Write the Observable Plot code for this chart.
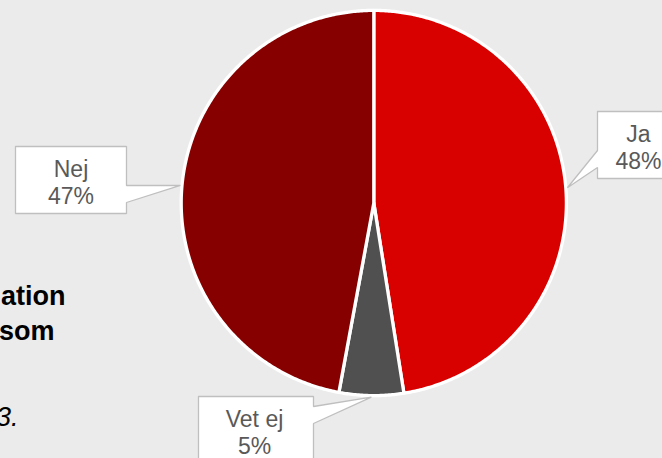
<!DOCTYPE html>
<html><head><meta charset="utf-8">
<script src="https://cdn.jsdelivr.net/npm/d3@7"></script>
<script src="https://cdn.jsdelivr.net/npm/@observablehq/plot@0.6"></script>
<style>html,body{margin:0;padding:0;background:#ebebeb;overflow:hidden}</style>
</head><body><div id="chart"></div>
<script>
// ---- data ----
const categories = ["Ja", "Vet ej", "Nej"];
const values = [47.5, 5.4, 47.1];
const percentLabels = ["48%", "5%", "47%"];
const colors = ["#d90000", "#505050", "#860000"];
const sideFragments = ["ation", "som"];
const noteFragments = ["3."];

// ---- layout ----
const W = 662, H = 458;
const cx = 373.3, cy = 202.5, R = 192.6;
const callouts = {
  "Ja":     {x0: 597, y0: 111, x1: 680, y1: 178, side: "left",  p0: 150, p1: 167, tx: 638},
  "Vet ej": {x0: 198, y0: 396, x1: 313, y1: 480, side: "right", p0: 406, p1: 423, tx: 254},
  "Nej":    {x0: 15,  y0: 146, x1: 126, y1: 213, side: "right", p0: 185, p1: 202, tx: 70.5}
};

const arcs = d3.pie().sort(null).value(d => d)(values);
const pt = (a, r) => ({x: cx + r * Math.sin(a), y: cy - r * Math.cos(a)});

const slicePts = [];
arcs.forEach((a, i) => {
  const cat = categories[i];
  slicePts.push({...pt(0, 0), cat});
  const n = Math.max(2, Math.ceil((a.endAngle - a.startAngle) / (Math.PI / 360)));
  for (let k = 0; k <= n; k++) {
    const ang = a.startAngle + (a.endAngle - a.startAngle) * k / n;
    slicePts.push({...pt(ang, R), cat});
  }
  slicePts.push({...pt(0, 0), cat});
});

const boxPts = [];
const textLines = [];
arcs.forEach((a, i) => {
  const cat = categories[i];
  const c = callouts[cat];
  const tip = pt((a.startAngle + a.endAngle) / 2, R + 1.6);
  let poly;
  if (c.side === "right") {
    poly = [[c.x0, c.y0], [c.x1, c.y0], [c.x1, c.p0], [tip.x, tip.y], [c.x1, c.p1], [c.x1, c.y1], [c.x0, c.y1], [c.x0, c.y0]];
  } else {
    poly = [[c.x0, c.y0], [c.x1, c.y0], [c.x1, c.y1], [c.x0, c.y1], [c.x0, c.p1], [tip.x, tip.y], [c.x0, c.p0], [c.x0, c.y0]];
  }
  poly.forEach(([x, y]) => boxPts.push({x, y, cat}));
  textLines.push({x: c.tx, y: c.y0 + 30, t: cat});
  textLines.push({x: c.tx, y: c.y0 + 57, t: percentLabels[i]});
});

const sideText = [
  {x: 65, y: 304, t: sideFragments[0]},
  {x: 54, y: 339, t: sideFragments[1]}
];
const noteText = [{x: 18, y: 425, t: noteFragments[0]}];

const font = "'Liberation Sans', Arial, sans-serif";

const chart = Plot.plot({
  width: W, height: H,
  margin: 0,
  x: {domain: [0, W], range: [0, W], axis: null},
  y: {domain: [0, H], range: [0, H], axis: null},
  color: {domain: categories, range: colors},
  style: {background: "#ebebeb", fontFamily: font},
  marks: [
    Plot.line(slicePts, {x: "x", y: "y", z: "cat", fill: "cat", stroke: "white", strokeWidth: 3.3, strokeLinejoin: "round", curve: "linear"}),
    Plot.line(boxPts, {x: "x", y: "y", z: "cat", fill: "white", stroke: "#bfbfbf", strokeWidth: 1.3, strokeLinejoin: "miter", curve: "linear"}),
    Plot.text(textLines, {x: "x", y: "y", text: "t", fontSize: 23, fill: "#595959", textAnchor: "middle", lineAnchor: "bottom"}),
    Plot.text(sideText, {x: "x", y: "y", text: "t", fontSize: 27, fontWeight: "bold", fill: "#000", textAnchor: "end", lineAnchor: "bottom"}),
    Plot.text(noteText, {x: "x", y: "y", text: "t", fontSize: 27, fontStyle: "italic", fill: "#000", textAnchor: "end", lineAnchor: "bottom"})
  ]
});
document.getElementById("chart").appendChild(chart);
</script>
</body></html>
